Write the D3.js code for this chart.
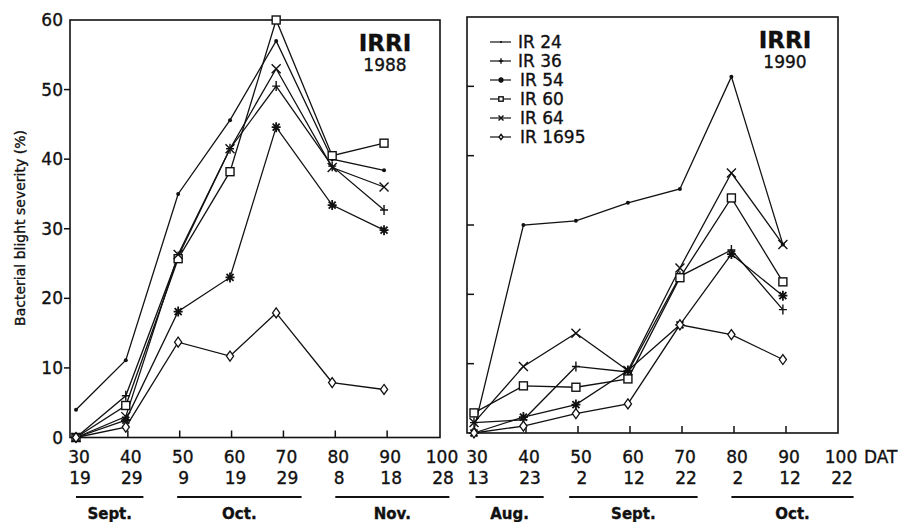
<!DOCTYPE html>
<html>
<head>
<meta charset="utf-8">
<script src="https://cdn.jsdelivr.net/npm/d3@7"></script>
<style>
  body { margin: 0; background: #fff; }
  svg text { font-family: 'DejaVu Sans', sans-serif; fill: #111; stroke: #111; stroke-width: 0.35px; }
</style>
</head>
<body>
<div id="chart"></div>
<script>
// varieties, in legend order, and the marker each one uses
const varieties = ['IR 24', 'IR 36', 'IR 54', 'IR 60', 'IR 64', 'IR 1695'];
const markerTypes = ['dot', 'plus', 'star', 'square', 'cross', 'diamond'];

// days after transplanting (DAT) at which the plots were scored
const dat1988 = [30, 39.6, 49.7, 59.7, 68.6, 79.4, 89.4];
const dat1990 = [30, 39.5, 49.6, 59.6, 69.6, 79.5, 89.4];

// bacterial blight severity (%), one row per variety
const severity1988 = [
  [4, 11.1, 35, 45.6, 57, 40, 38.4],     // IR 24
  [0, 6, 26, 41.5, 50.5, 39, 32.7],      // IR 36
  [0, 2.5, 18.1, 23, 44.6, 33.4, 29.8],  // IR 54
  [0, 4.6, 25.7, 38.2, 60, 40.5, 42.3],  // IR 60
  [0, 3, 26.3, 41.5, 53, 38.8, 36],      // IR 64
  [0, 1.5, 13.7, 11.7, 17.9, 7.9, 6.9]   // IR 1695
];
const severity1990 = [
  [0.5, 30, 30.6, 33.2, 35.2, 51.4, 27.2], // IR 24
  [1.5, 1.9, 9.6, 8.8, 22.6, 26.4, 17.8],  // IR 36
  [0, 2.3, 4.1, 9, 15.6, 25.8, 19.8],      // IR 54
  [2.9, 6.8, 6.6, 7.8, 22.4, 33.9, 21.8],  // IR 60
  [1.5, 9.6, 14.4, 9, 23.8, 37.5, 27.2],   // IR 64
  [0, 1, 2.8, 4.2, 15.6, 14.2, 10.6]       // IR 1695
];

// axis ticks and the calendar rows under them
const datTicks = [30, 40, 50, 60, 70, 80, 90, 100];
const severityTicks = [0, 10, 20, 30, 40, 50, 60];
const days1988 = ['19', '29', '9', '19', '29', '8', '18', '28'];
const days1990 = ['13', '23', '2', '12', '22', '2', '12', '22'];
// month name and the DAT span its underline covers
const months1988 = [
  { name: 'Sept.', from: 30, to: 43 },
  { name: 'Oct.', from: 49.5, to: 73.5 },
  { name: 'Nov.', from: 80, to: 102 }
];
const months1990 = [
  { name: 'Aug.', from: 30.3, to: 43.4 },
  { name: 'Sept.', from: 48.3, to: 73 },
  { name: 'Oct.', from: 79.5, to: 103 }
];

const width = 900;
const height = 522;

const svg = d3.select('#chart').append('svg').attr('width', width).attr('height', height);

// small marker glyphs drawn around (0,0)
function drawMarker(g, type, s) {
  const k = s || 1;
  if (type === 'dot') {
    g.append('circle').attr('r', 2 * k).attr('fill', '#111');
  } else if (type === 'plus') {
    g.append('path').attr('d', `M${-4 * k},0H${4 * k}M0,${-5 * k}V${5 * k}`)
      .attr('stroke', '#111').attr('stroke-width', 1.4);
  } else if (type === 'star') {
    g.append('path')
      .attr('d', `M${-4.5 * k},0H${4.5 * k}M0,${-5 * k}V${5 * k}M${-3.5 * k},${-3.5 * k}L${3.5 * k},${3.5 * k}M${-3.5 * k},${3.5 * k}L${3.5 * k},${-3.5 * k}`)
      .attr('stroke', '#111').attr('stroke-width', 1.8);
  } else if (type === 'square') {
    g.append('rect').attr('x', -4 * k).attr('y', -4 * k).attr('width', 8 * k).attr('height', 8 * k)
      .attr('fill', '#fff').attr('stroke', '#111').attr('stroke-width', 1.4);
  } else if (type === 'cross') {
    g.append('path').attr('d', `M${-4.5 * k},${-4.5 * k}L${4.5 * k},${4.5 * k}M${-4.5 * k},${4.5 * k}L${4.5 * k},${-4.5 * k}`)
      .attr('stroke', '#111').attr('stroke-width', 1.4);
  } else if (type === 'diamond') {
    g.append('path').attr('d', `M0,${-5 * k}L${3.6 * k},0L0,${5 * k}L${-3.6 * k},0Z`)
      .attr('fill', '#fff').attr('stroke', '#111').attr('stroke-width', 1.3);
  }
}

function drawPanel(p) {
  const x = d3.scaleLinear().domain([30, 100]).range([p.x30, p.x100]);
  const y = d3.scaleLinear().domain([0, 60]).range([p.y0, p.y60]);
  const g = svg.append('g');

  // frame
  g.append('rect')
    .attr('x', p.frameLeft).attr('y', p.y60)
    .attr('width', p.frameRight - p.frameLeft).attr('height', p.y0 - p.y60)
    .attr('fill', 'none').attr('stroke', '#111').attr('stroke-width', 1.6);

  // x ticks point up into the plot
  g.selectAll('line.xtick').data(datTicks.slice(1, 7)).enter().append('line')
    .attr('class', 'xtick')
    .attr('x1', (d) => x(d)).attr('x2', (d) => x(d))
    .attr('y1', p.y0).attr('y2', p.y0 - 7)
    .attr('stroke', '#111').attr('stroke-width', 1.5);

  // y ticks: outside with labels on the left panel, inside on the right one
  g.selectAll('line.ytick').data(severityTicks.slice(1, 6)).enter().append('line')
    .attr('class', 'ytick')
    .attr('x1', p.frameLeft).attr('x2', p.frameLeft + (p.yLabels ? -6 : 7))
    .attr('y1', (d) => y(d)).attr('y2', (d) => y(d))
    .attr('stroke', '#111').attr('stroke-width', 1.5);

  if (p.yLabels) {
    g.selectAll('text.ylab').data(severityTicks).enter().append('text')
      .attr('class', 'ylab')
      .attr('x', p.frameLeft - 7).attr('y', (d) => y(d) + 6)
      .attr('text-anchor', 'end').attr('font-size', 17)
      .text((d) => d);
  }

  // DAT row
  g.selectAll('text.dat').data(datTicks).enter().append('text')
    .attr('class', 'dat')
    .attr('x', (d) => x(d) + 3).attr('y', 463)
    .attr('text-anchor', 'middle').attr('font-size', 17)
    .text((d) => d);

  // calendar day row
  g.selectAll('text.day').data(p.days).enter().append('text')
    .attr('class', 'day')
    .attr('x', (d, i) => x(datTicks[i]) + 4).attr('y', 484)
    .attr('text-anchor', 'middle').attr('font-size', 17)
    .text((d) => d);

  // month underlines and names
  g.selectAll('line.month').data(p.months).enter().append('line')
    .attr('class', 'month')
    .attr('x1', (d) => x(d.from)).attr('x2', (d) => x(d.to))
    .attr('y1', 497).attr('y2', 497)
    .attr('stroke', '#111').attr('stroke-width', 1.8);
  g.selectAll('text.month').data(p.months).enter().append('text')
    .attr('class', 'month')
    .attr('x', (d) => x((d.from + d.to) / 2)).attr('y', 519)
    .attr('text-anchor', 'middle').attr('font-size', 15).attr('font-weight', 'bold')
    .text((d) => d.name);

  // site / year label
  g.append('text').attr('x', p.titleX).attr('y', p.y60 + 31)
    .attr('text-anchor', 'middle').attr('font-size', 23).attr('font-weight', 'bold')
    .text('IRRI');
  g.append('text').attr('x', p.titleX).attr('y', p.y60 + 51)
    .attr('text-anchor', 'middle').attr('font-size', 17)
    .text(p.year);

  // one line per variety
  const line = d3.line().x((d) => x(d[0])).y((d) => y(d[1]));
  p.series.forEach((vals, i) => {
    const pts = vals.map((v, j) => [p.dat[j], v]);
    g.append('path').datum(pts).attr('d', line)
      .attr('fill', 'none').attr('stroke', '#111').attr('stroke-width', 1.3);
  });
  p.series.forEach((vals, i) => {
    vals.forEach((v, j) => {
      const m = g.append('g').attr('transform', `translate(${x(p.dat[j])},${y(v)})`);
      drawMarker(m, markerTypes[i], 1);
    });
  });

  return g;
}

drawPanel({
  frameLeft: 70, frameRight: 440, x30: 76, x100: 439,
  y0: 437.5, y60: 20, yLabels: true,
  days: days1988, months: months1988, dat: dat1988, series: severity1988,
  titleX: 385, year: '1988'
});

const right = drawPanel({
  frameLeft: 467, frameRight: 838, x30: 474, x100: 838,
  y0: 433, y60: 17, yLabels: false,
  days: days1990, months: months1990, dat: dat1990, series: severity1990,
  titleX: 785, year: '1990'
});

// unit after the last DAT tick
svg.append('text').attr('x', 864).attr('y', 463).attr('font-size', 17).text('DAT');

// y axis title
svg.append('text')
  .attr('transform', 'translate(25,228) rotate(-90)')
  .attr('text-anchor', 'middle').attr('font-size', 14)
  .text('Bacterial blight severity (%)');

// legend inside the 1990 panel
const legend = right.append('g').attr('transform', 'translate(490,42)');
varieties.forEach((name, i) => {
  const row = legend.append('g').attr('transform', `translate(0,${i * 19})`);
  row.append('line').attr('x1', 0).attr('x2', 21).attr('stroke', '#111').attr('stroke-width', 1.2);
  drawMarker(row.append('g').attr('transform', 'translate(11,0)'), markerTypes[i], 0.55);
  row.append('text').attr('x', 28 + (i > 1 ? 2 : 0)).attr('y', 6).attr('font-size', 17).text(name);
});
</script>
</body>
</html>
